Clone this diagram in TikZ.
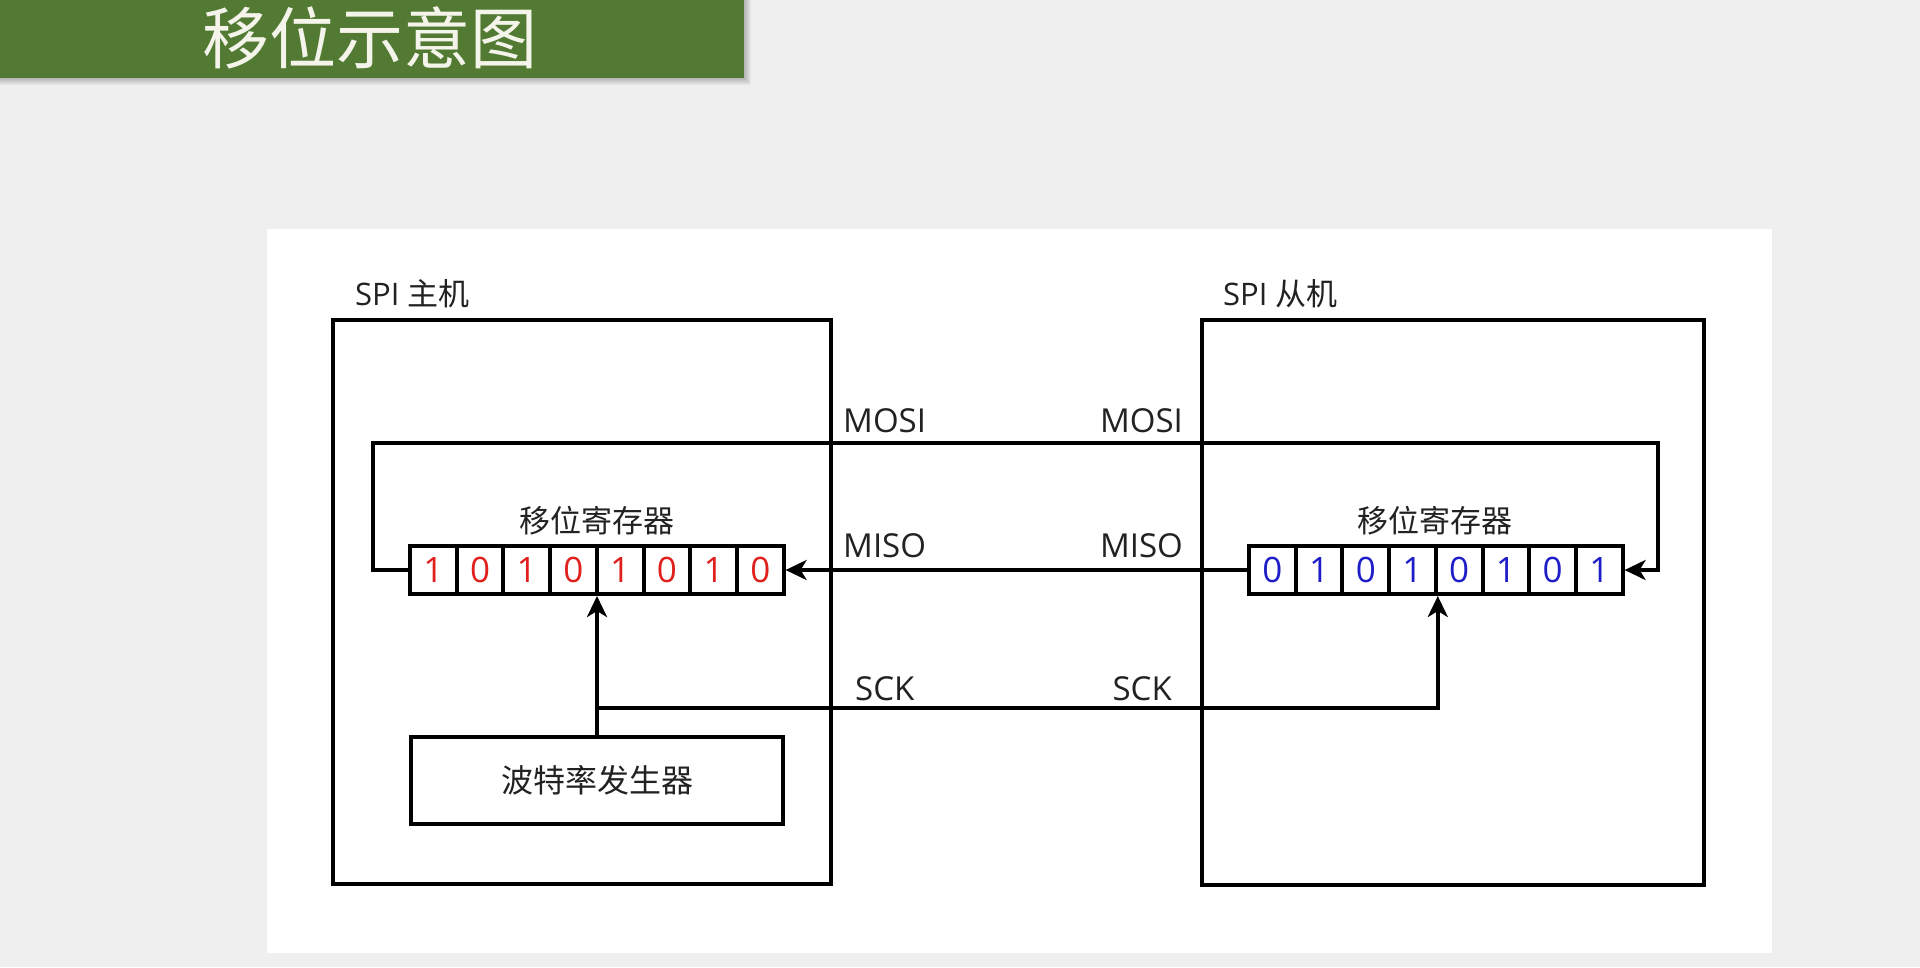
\documentclass[tikz,border=0pt]{standalone}
\usepackage{fontspec}
\setmainfont{Open Sans}
\newfontfamily\cjk{Noto Sans CJK SC}
\usetikzlibrary{arrows.meta}
\definecolor{bgc}{HTML}{EFEFEF}
\definecolor{banner}{HTML}{527A33}
\definecolor{titletxt}{HTML}{F4F4EA}
\definecolor{redbit}{HTML}{E0201C}
\definecolor{bluebit}{HTML}{1E1EC8}
\definecolor{txt}{HTML}{222222}
\tikzset{
  wire/.style={line width=4pt, black},
  tip/.style={-{Stealth[length=21pt,width=20pt,inset=6pt]}},
  box/.style={draw=black, line width=4pt, fill=white, inner sep=0pt},
  cell/.style={draw=black, line width=4pt, fill=white, inner sep=0pt,
               minimum width=46.7pt, minimum height=48pt, font=\fontsize{35}{40}\selectfont},
  sig/.style={font=\fontsize{33}{40}\selectfont, text=txt, inner sep=0pt},
  cjklbl/.style={font=\cjk\fontsize{31}{36}\selectfont, text=txt, inner sep=0pt},
}
\begin{document}
\begin{tikzpicture}[x=1pt,y=-1pt]
\useasboundingbox (0,0) rectangle (1920,967);
\fill[bgc] (0,0) rectangle (1920,967);
% banner with soft shadow
\foreach \k in {1,...,7} {
  \fill[black, opacity=0.035] (0,0) rectangle (744+\k,78+\k);
}
\fill[banner] (0,0) rectangle (744,78);
\node[text=titletxt, font=\cjk\fontsize{67}{72}\selectfont, inner sep=0pt] (title) at (370,38) {移位示意图};
% white panel
\fill[white] (267,229) rectangle (1772,953);

% master and slave boxes
\node[box, minimum width=498pt, minimum height=564pt, anchor=north west] (mbox) at (331,318) {};
\node[box, minimum width=502pt, minimum height=565pt, anchor=north west] (sbox) at (1200,318) {};
\node[anchor=base west, inner sep=0pt, text=txt, font=\fontsize{31}{36}\selectfont] (mlbl) at (355,305) {SPI {\cjk 主机}};
\node[anchor=base west, inner sep=0pt, text=txt, font=\fontsize{31}{36}\selectfont] (slbl) at (1223,305) {SPI {\cjk 从机}};

% baud generator
\node[box, minimum width=372pt, minimum height=87pt, font=\cjk\fontsize{32}{36}\selectfont, text=txt] (baud) at (597,780.5) {波特率发生器};

% registers
\foreach \b [count=\i] in {1,0,1,0,1,0,1,0} {
  \node[cell, text=redbit] (m\i) at ({410+46.7*(\i-0.5)},570) {\b};
}
\foreach \b [count=\i] in {0,1,0,1,0,1,0,1} {
  \node[cell, text=bluebit] (s\i) at ({1249+46.7*(\i-0.5)},570) {\b};
}
\node[cjklbl] (mreglbl) at (597,521) {移位寄存器};
\node[cjklbl] (sreglbl) at (1435,521) {移位寄存器};

% connectors
\coordinate (mosiL) at (373,443);
\coordinate (mosiR) at (1658,443);
\draw[wire, tip] (m1.west) -| (mosiL) -- (mosiR) |- (s8.east);
\draw[wire, tip] (s1.west) -- (m8.east);
\coordinate (sckj) at (597,708);
\draw[wire, tip] (baud.north) -- (baud.north |- m4.south);
\draw[wire, tip] (sckj) -| (s4.south east);

% signal labels
\node[sig, anchor=base west] (mosi1) at (843,432) {MOSI};
\node[sig, anchor=base east] (mosi2) at (1183,432) {MOSI};
\node[sig, anchor=base west] (miso1) at (843,557) {MISO};
\node[sig, anchor=base east] (miso2) at (1183,557) {MISO};
\node[sig, anchor=base west] (sck1) at (855,700) {SCK};
\node[sig, anchor=base east] (sck2) at (1172,700) {SCK};
\end{tikzpicture}
\end{document}
